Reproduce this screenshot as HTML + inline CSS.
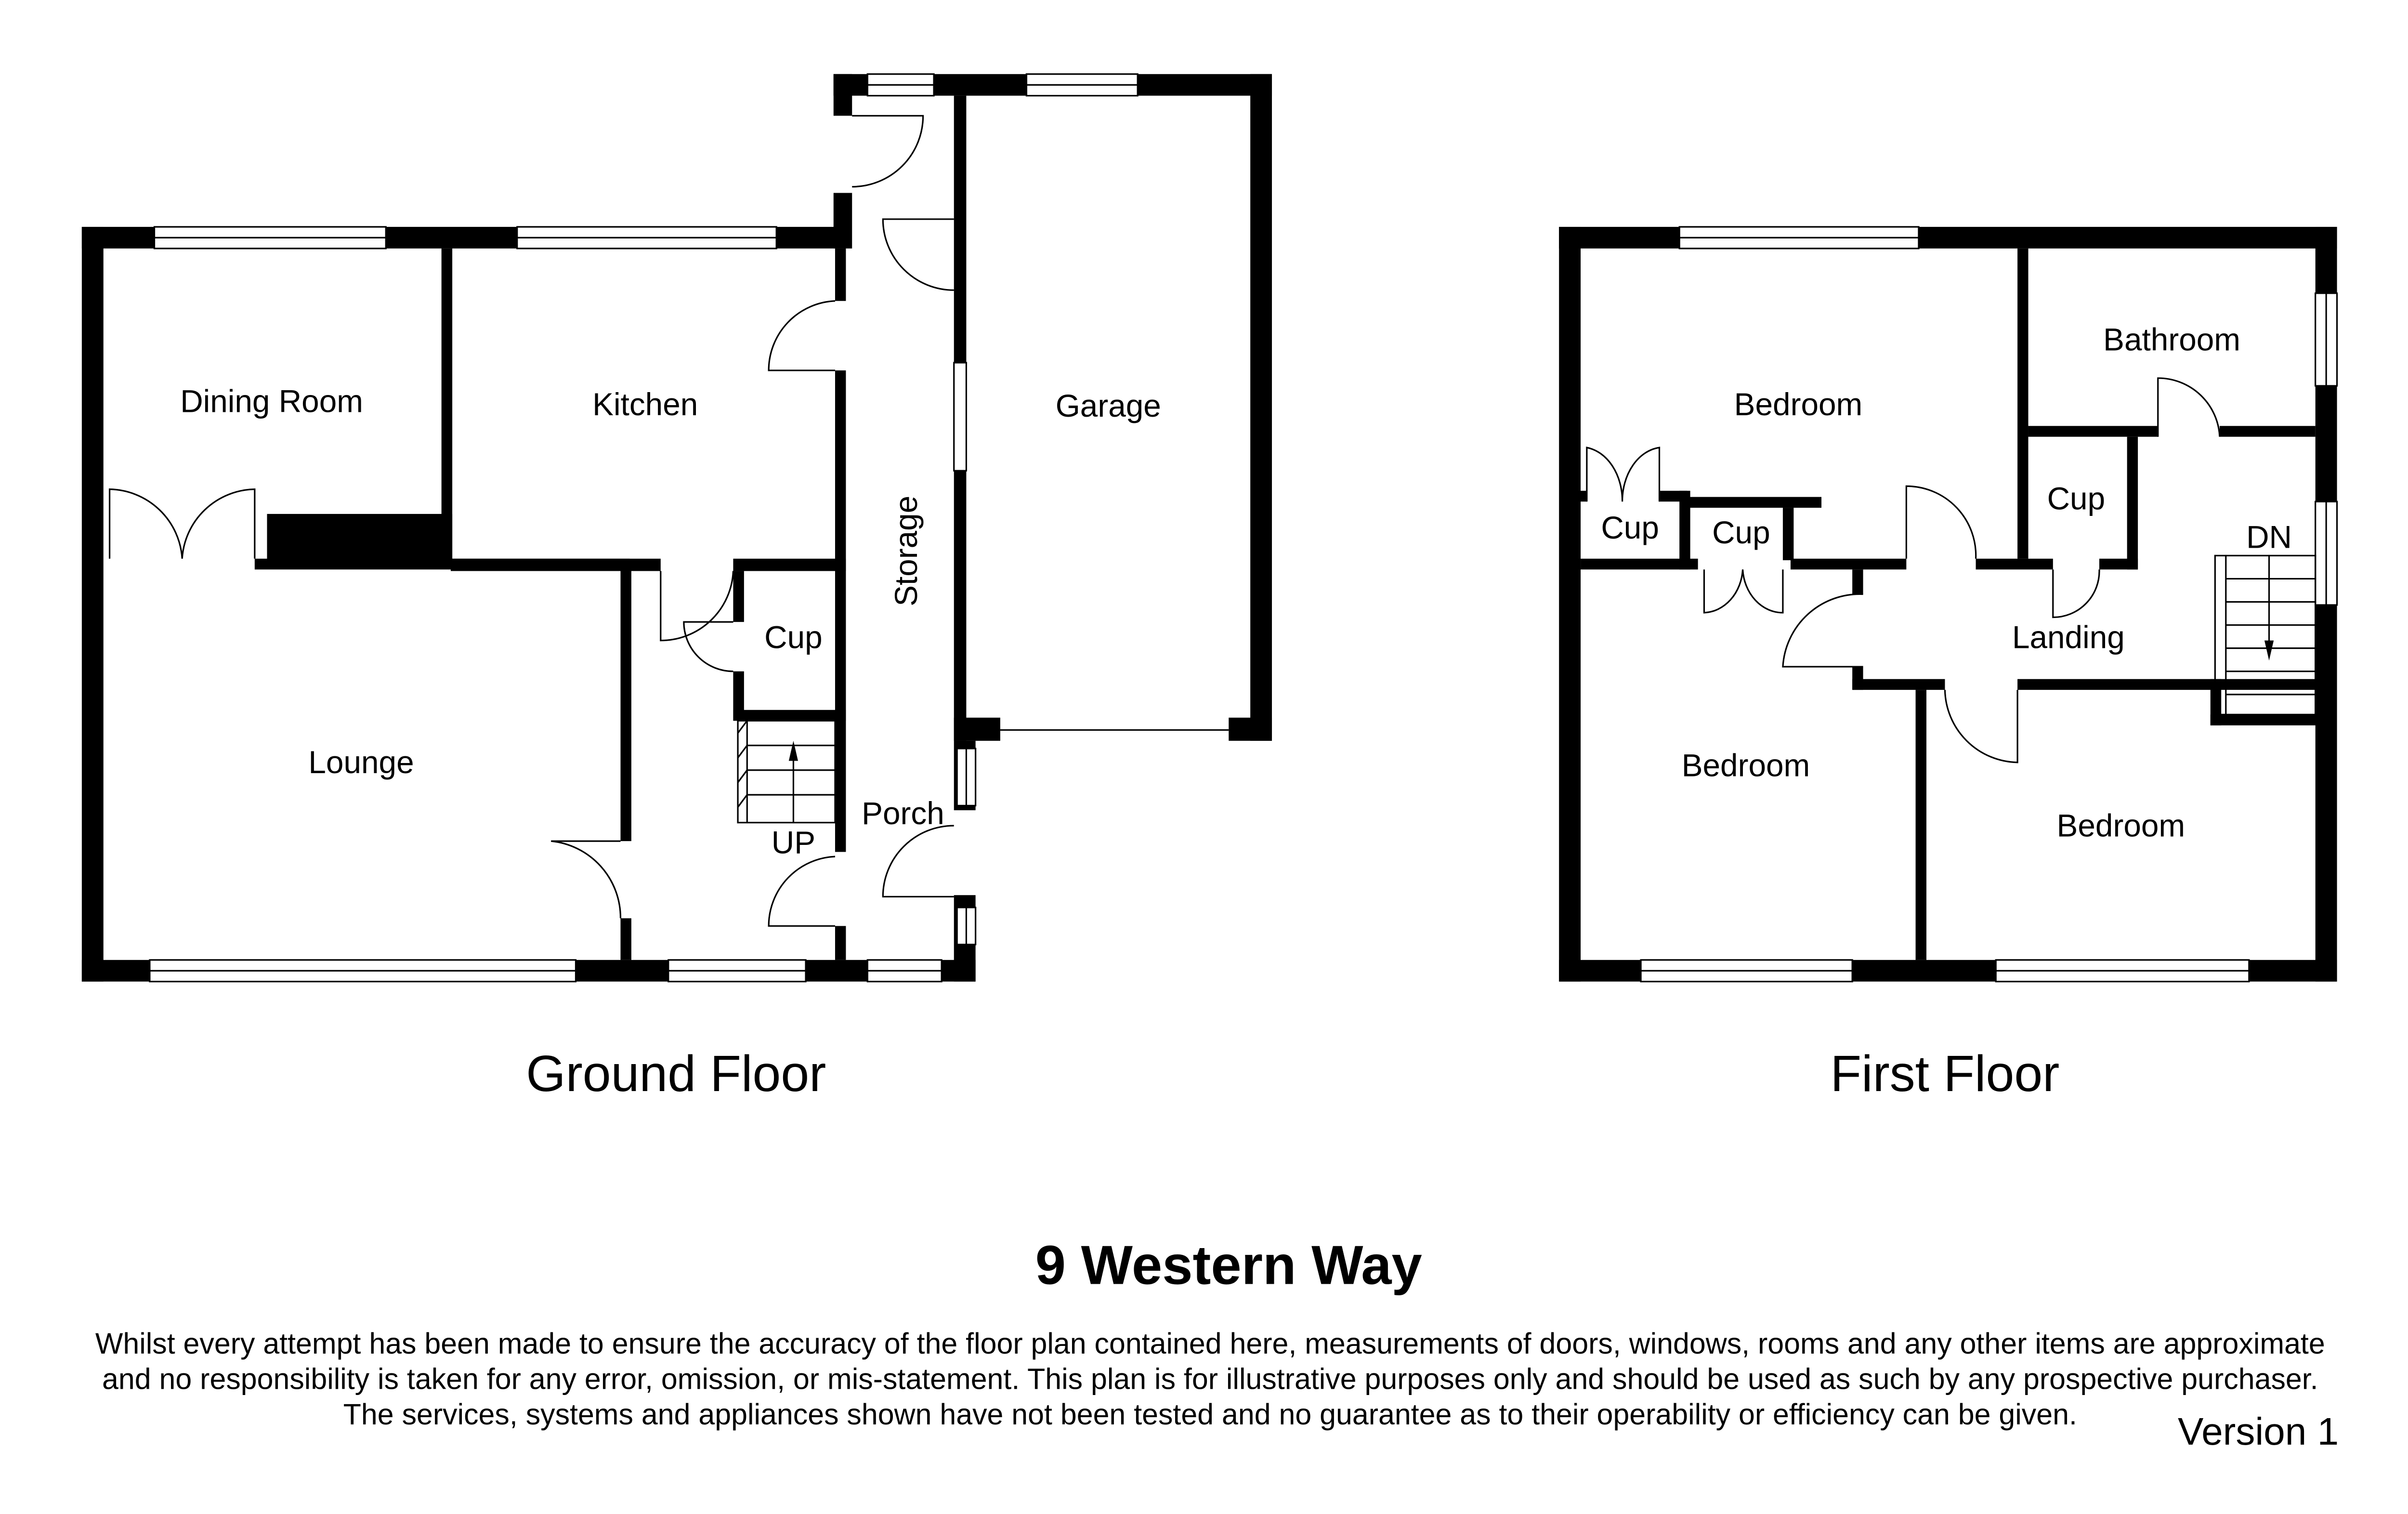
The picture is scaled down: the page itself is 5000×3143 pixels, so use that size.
<!DOCTYPE html>
<html><head><meta charset="utf-8"><style>html,body{margin:0;padding:0;background:#fff}svg{display:block}</style></head>
<body>
<svg width="5000" height="3143" viewBox="0 0 1560 981" preserveAspectRatio="none" xmlns="http://www.w3.org/2000/svg" font-family="Liberation Sans, Arial, sans-serif">
<rect width="1560" height="981" fill="#fff"/>
<g fill="#000">
<rect x="53" y="147" width="14" height="489"/>
<rect x="53" y="147" width="495" height="14"/>
<rect x="53" y="622" width="579" height="14"/>
<rect x="540" y="48" width="284" height="14"/>
<rect x="540" y="48" width="12" height="27"/>
<rect x="540" y="125" width="12" height="36"/>
<rect x="810" y="48" width="14" height="432"/>
<rect x="618" y="62" width="8" height="418"/>
<rect x="618" y="465" width="30" height="15"/>
<rect x="796" y="465" width="28" height="15"/>
<rect x="618" y="480" width="14" height="45"/>
<rect x="618" y="580" width="14" height="56"/>
<rect x="541" y="161" width="7" height="34"/>
<rect x="541" y="240" width="7" height="312"/>
<rect x="541" y="600" width="7" height="22"/>
<rect x="286" y="161" width="7" height="207"/>
<rect x="173" y="333" width="120" height="35"/>
<rect x="165" y="362" width="243" height="7"/>
<rect x="292" y="362" width="136" height="8"/>
<rect x="475" y="362" width="73" height="8"/>
<rect x="475" y="370" width="7" height="33"/>
<rect x="475" y="435" width="7" height="32"/>
<rect x="475" y="460" width="73" height="7"/>
<rect x="402" y="369" width="7" height="176"/>
<rect x="402" y="595" width="7" height="27"/>
<rect x="1010" y="147" width="14" height="489"/>
<rect x="1010" y="147" width="504" height="14"/>
<rect x="1010" y="622" width="504" height="14"/>
<rect x="1500" y="147" width="14" height="489"/>
<rect x="1307" y="161" width="7" height="201"/>
<rect x="1314" y="276" width="84" height="7"/>
<rect x="1438" y="276" width="62" height="7"/>
<rect x="1378" y="283" width="7" height="86"/>
<rect x="1024" y="362" width="76" height="7"/>
<rect x="1160" y="362" width="75" height="7"/>
<rect x="1280" y="362" width="50" height="7"/>
<rect x="1360" y="362" width="25" height="7"/>
<rect x="1020" y="318" width="8" height="7"/>
<rect x="1075" y="318" width="18" height="7"/>
<rect x="1088" y="318" width="7" height="51"/>
<rect x="1093" y="322" width="87" height="7"/>
<rect x="1155" y="329" width="7" height="34"/>
<rect x="1200" y="369" width="7" height="16"/>
<rect x="1200" y="432" width="7" height="15"/>
<rect x="1200" y="440" width="60" height="7"/>
<rect x="1307" y="440" width="193" height="7"/>
<rect x="1241" y="447" width="7" height="175"/>
<rect x="1432" y="440" width="7" height="30"/>
<rect x="1432" y="463" width="70" height="7"/>
</g>
<g fill="#fff" stroke="#000" stroke-width="1">
<rect x="100" y="147" width="150" height="14"/><rect x="335" y="147" width="168" height="14"/>
<rect x="97" y="622" width="276" height="14"/><rect x="433" y="622" width="89" height="14"/><rect x="562" y="622" width="48" height="14"/>
<rect x="562" y="48" width="43" height="14"/><rect x="665" y="48" width="72" height="14"/>
<rect x="618" y="235" width="8" height="70"/><rect x="620" y="485" width="12" height="37"/><rect x="620" y="588" width="12" height="24"/>
<rect x="1088" y="147" width="155" height="14"/>
<rect x="1063" y="622" width="137" height="14"/><rect x="1293" y="622" width="164" height="14"/>
<rect x="1500" y="190" width="14" height="60"/><rect x="1500" y="325" width="14" height="67"/>
</g>
<g stroke="#000" stroke-width="1">
<line x1="100" y1="154" x2="250" y2="154"/><line x1="335" y1="154" x2="503" y2="154"/>
<line x1="97" y1="629" x2="373" y2="629"/><line x1="433" y1="629" x2="522" y2="629"/><line x1="562" y1="629" x2="610" y2="629"/>
<line x1="562" y1="55" x2="605" y2="55"/><line x1="665" y1="55" x2="737" y2="55"/>
<line x1="626" y1="485" x2="626" y2="522"/><line x1="626" y1="588" x2="626" y2="612"/>
<line x1="1088" y1="154" x2="1243" y2="154"/><line x1="1063" y1="629" x2="1200" y2="629"/><line x1="1293" y1="629" x2="1457" y2="629"/>
<line x1="1507" y1="190" x2="1507" y2="250"/><line x1="1507" y1="325" x2="1507" y2="392"/>
<line x1="648" y1="473" x2="796" y2="473"/>
</g>
<g fill="none" stroke="#000" stroke-width="1">
<path d="M552 75 L598 75 A46 46 0 0 1 552 121"/>
<path d="M618 142 L572 142 A46 46 0 0 0 618 188"/>
<path d="M541 195 A45 45 0 0 0 498 240 L541 240"/>
<path d="M71 362 L71 317 A48 48 0 0 1 118 362 M165 362 L165 317 A48 48 0 0 0 118 362"/>
<path d="M428 370 L428 415 A47 47 0 0 0 475 370 M475 403 L443 403 A32 32 0 0 0 475 435"/>
<path d="M402 545 L357 545 A50 50 0 0 1 402 595"/>
<path d="M541 555 A45 45 0 0 0 498 600 L541 600"/>
<path d="M618 535 A46 46 0 0 0 572 581 L618 581"/>
<path d="M1028 325 L1028 290 A27 35 0 0 1 1051 325 M1075 325 L1075 290 A27 35 0 0 0 1051 325"/>
<path d="M1104 369 L1104 397 A26 30 0 0 0 1129 369 M1155 369 L1155 397 A26 30 0 0 1 1129 369"/>
<path d="M1235 362 L1235 315 A45 45 0 0 1 1280 362"/>
<path d="M1207 385 A50 50 0 0 0 1155 432 L1207 432"/>
<path d="M1330 369 L1330 400 A30 30 0 0 0 1360 369"/>
<path d="M1260 447 A48 48 0 0 0 1307 494 L1307 447"/>
<path d="M1398 283 L1398 245 A40 40 0 0 1 1438 283"/>
</g>
<g fill="none" stroke="#000" stroke-width="1">
<rect x="478" y="467" width="63" height="66"/>
<line x1="484" y1="467" x2="484" y2="533"/>
<line x1="484" y1="483" x2="541" y2="483"/><line x1="484" y1="499" x2="541" y2="499"/><line x1="484" y1="515" x2="541" y2="515"/>
<line x1="478" y1="475" x2="484" y2="467"/><line x1="478" y1="491" x2="484" y2="483"/><line x1="478" y1="507" x2="484" y2="499"/><line x1="478" y1="523" x2="484" y2="515"/>
<line x1="514" y1="533" x2="514" y2="483"/>
<rect x="1435" y="360" width="65" height="103"/>
<line x1="1442" y1="360" x2="1442" y2="463"/>
<line x1="1442" y1="375" x2="1500" y2="375"/><line x1="1442" y1="390" x2="1500" y2="390"/><line x1="1442" y1="405" x2="1500" y2="405"/><line x1="1442" y1="420" x2="1500" y2="420"/><line x1="1442" y1="435" x2="1500" y2="435"/><line x1="1442" y1="450" x2="1500" y2="450"/>
<line x1="1470" y1="360" x2="1470" y2="420"/>
</g>
<polygon points="514,480 511,493 517,493" fill="#000"/>
<polygon points="1470,428 1467,415 1473,415" fill="#000"/>
<g font-size="20.5" fill="#000" text-anchor="middle">
<text x="176" y="267">Dining Room</text>
<text x="418" y="269">Kitchen</text>
<text x="718" y="270">Garage</text>
<text x="234" y="501">Lounge</text>
<text x="514" y="420">Cup</text>
<text x="514" y="553">UP</text>
<text x="585" y="534">Porch</text>
<text x="594" y="357" transform="rotate(-90 594 357)">Storage</text>
<text x="1165" y="269">Bedroom</text>
<text x="1407" y="227">Bathroom</text>
<text x="1345" y="330">Cup</text>
<text x="1056" y="349">Cup</text>
<text x="1128" y="352">Cup</text>
<text x="1470" y="355">DN</text>
<text x="1340" y="420">Landing</text>
<text x="1131" y="503">Bedroom</text>
<text x="1374" y="542">Bedroom</text>
</g>
<g font-size="33" text-anchor="middle">
<text x="438" y="707">Ground Floor</text>
<text x="1260" y="707">First Floor</text>
<text x="796" y="832" font-weight="bold" font-size="35.5">9 Western Way</text>
</g>
<g font-size="19" text-anchor="middle">
<text x="784" y="877">Whilst every attempt has been made to ensure the accuracy of the floor plan contained here, measurements of doors, windows, rooms and any other items are approximate</text>
<text x="784" y="900">and no responsibility is taken for any error, omission, or mis-statement. This plan is for illustrative purposes only and should be used as such by any prospective purchaser.</text>
<text x="784" y="923">The services, systems and appliances shown have not been tested and no guarantee as to their operability or efficiency can be given.</text>
</g>
<text x="1463" y="936" font-size="25" text-anchor="middle">Version 1</text>
</svg>
</body></html>
